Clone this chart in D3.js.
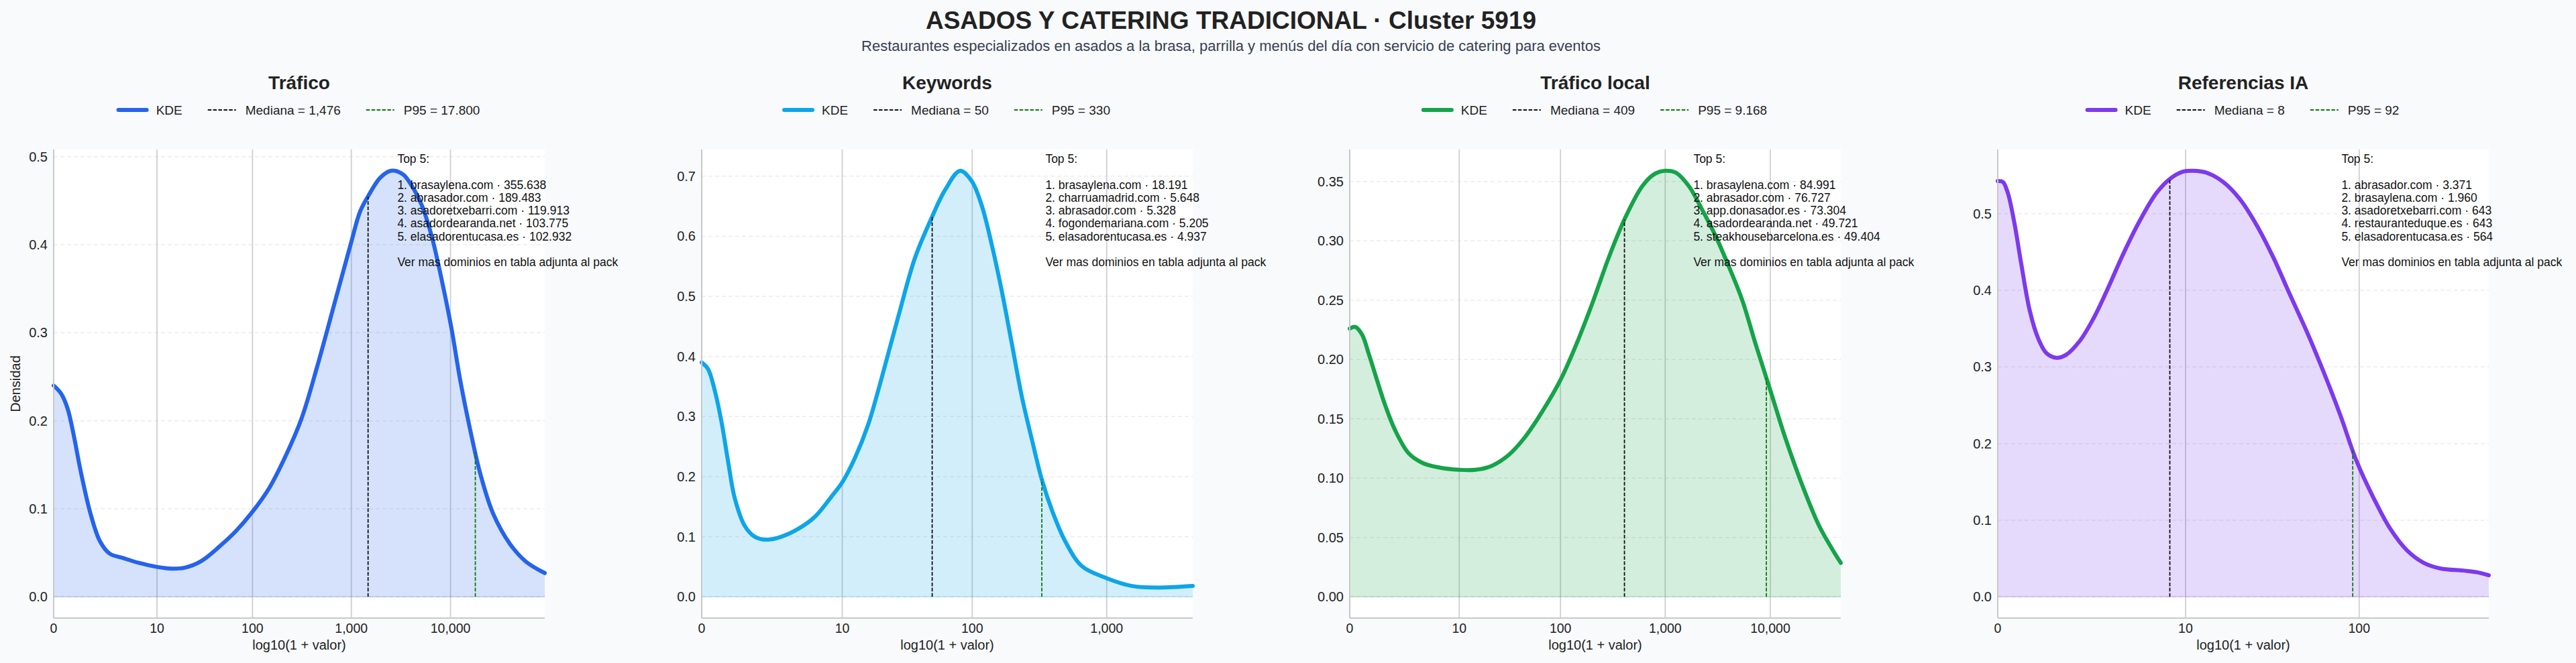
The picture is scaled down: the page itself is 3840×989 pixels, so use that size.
<!DOCTYPE html>
<html>
<head>
<meta charset="utf-8">
<script src="https://cdn.jsdelivr.net/npm/d3@7"></script>
<style>
  html, body { margin: 0; padding: 0; background: #f8fafc; }
  svg { display: block; font-family: "Liberation Sans", Arial, sans-serif; }
</style>
</head>
<body>
<script>
// panel data (x = log10(1 + valor), y = densidad)
const titles = ["Tráfico", "Keywords", "Tráfico local", "Referencias IA"];
const colors = ["#2563eb", "#0ea5e9", "#16a34a", "#7c3aed"];
const medians = [1476, 50, 409, 8];
const medianLabels = ["1,476", "50", "409", "8"];
const p95s = [17800, 330, 9168, 92];
const p95Labels = ["17.800", "330", "9.168", "92"];
const xMaxes = [4.95, 3.638, 4.67, 2.723];
const yTickSteps = [0.1, 0.1, 0.05, 0.1];
const yTickFormats = [".1f", ".1f", ".2f", ".1f"];
const xTickValues = [0, 10, 100, 1000, 10000];

const traficoKde = [
  [0, 0.240], [0.074, 0.231], [0.14, 0.214], [0.205, 0.182], [0.27, 0.144], [0.37, 0.095],
  [0.467, 0.063], [0.565, 0.049], [0.70, 0.044], [0.86, 0.0385], [1.04, 0.034], [1.19, 0.032],
  [1.32, 0.033], [1.48, 0.040], [1.68, 0.058], [1.84, 0.075], [2.00, 0.096], [2.17, 0.123],
  [2.33, 0.158], [2.50, 0.203], [2.66, 0.263], [2.83, 0.333], [3.0, 0.403], [3.09, 0.438],
  [3.19, 0.459], [3.29, 0.476], [3.40, 0.484], [3.52, 0.480], [3.61, 0.467], [3.71, 0.445],
  [3.81, 0.410], [3.91, 0.361], [4.01, 0.305], [4.10, 0.245], [4.20, 0.189], [4.30, 0.140],
  [4.43, 0.0945], [4.60, 0.060], [4.76, 0.040], [4.95, 0.027]
];
const keywordsKde = [
  [0, 0.390], [0.047, 0.379], [0.096, 0.344], [0.146, 0.292], [0.195, 0.226], [0.245, 0.164],
  [0.319, 0.118], [0.393, 0.100], [0.48, 0.095], [0.59, 0.100], [0.715, 0.113], [0.838, 0.133],
  [0.962, 0.167], [1.04, 0.190], [1.135, 0.231], [1.234, 0.287], [1.333, 0.364], [1.457, 0.467],
  [1.58, 0.564], [1.704, 0.631], [1.803, 0.677], [1.914, 0.709], [2.00, 0.692], [2.075, 0.651],
  [2.15, 0.585], [2.224, 0.508], [2.298, 0.421], [2.372, 0.333], [2.446, 0.262], [2.52, 0.195],
  [2.595, 0.144], [2.694, 0.092], [2.817, 0.051], [3.0, 0.031], [3.188, 0.018], [3.386, 0.0154],
  [3.638, 0.018]
];
const localKde = [
  [0, 0.226], [0.053, 0.2275], [0.117, 0.221], [0.18, 0.205], [0.244, 0.187], [0.339, 0.161],
  [0.434, 0.140], [0.56, 0.121], [0.688, 0.113], [0.847, 0.109], [1.04, 0.107], [1.195, 0.107],
  [1.354, 0.1105], [1.513, 0.1196], [1.671, 0.135], [1.83, 0.156], [2.00, 0.182], [2.147, 0.211],
  [2.306, 0.247], [2.464, 0.286], [2.623, 0.320], [2.782, 0.346], [2.893, 0.356], [2.997, 0.359],
  [3.10, 0.3575], [3.226, 0.346], [3.353, 0.326], [3.48, 0.304], [3.607, 0.278], [3.733, 0.250],
  [3.86, 0.213], [4.0, 0.174], [4.146, 0.133], [4.304, 0.094], [4.463, 0.060], [4.59, 0.040],
  [4.67, 0.0286]
];
const iaKde = [
  [0, 0.5427], [0.0285, 0.5415], [0.056, 0.527], [0.093, 0.487], [0.13, 0.435], [0.177, 0.374],
  [0.223, 0.338], [0.27, 0.318], [0.325, 0.312], [0.38, 0.316], [0.455, 0.334], [0.528, 0.362],
  [0.603, 0.3985], [0.695, 0.447], [0.788, 0.491], [0.88, 0.527], [0.955, 0.5455], [1.029, 0.555],
  [1.084, 0.556], [1.158, 0.5535], [1.25, 0.5415], [1.343, 0.519], [1.436, 0.485], [1.528, 0.443],
  [1.62, 0.3945], [1.714, 0.346], [1.806, 0.294], [1.899, 0.2375], [1.99, 0.177], [2.084, 0.129],
  [2.177, 0.0886], [2.27, 0.0604], [2.362, 0.0443], [2.455, 0.037], [2.584, 0.0342], [2.658, 0.032],
  [2.723, 0.028]
];
const kdes = [traficoKde, keywordsKde, localKde, iaKde];

const top5 = [
  ["brasaylena.com · 355.638", "abrasador.com · 189.483", "asadoretxebarri.com · 119.913",
   "asadordearanda.net · 103.775", "elasadorentucasa.es · 102.932"],
  ["brasaylena.com · 18.191", "charruamadrid.com · 5.648", "abrasador.com · 5.328",
   "fogondemariana.com · 5.205", "elasadorentucasa.es · 4.937"],
  ["brasaylena.com · 84.991", "abrasador.com · 76.727", "app.donasador.es · 73.304",
   "asadordearanda.net · 49.721", "steakhousebarcelona.es · 49.404"],
  ["abrasador.com · 3.371", "brasaylena.com · 1.960", "asadoretxebarri.com · 643",
   "restauranteduque.es · 643", "elasadorentucasa.es · 564"]
];

const width = 3840, height = 989;
const plotTop = 223, plotBottom = 922, plotW = 732;
const left0 = 80, step = 966;

const svg = d3.select("body").append("svg")
  .attr("width", width).attr("height", height);

svg.append("rect").attr("width", width).attr("height", height).attr("fill", "#f8fafc");

svg.append("text")
  .attr("x", 1835).attr("y", 43)
  .attr("text-anchor", "middle")
  .attr("font-size", 37).attr("font-weight", "bold").attr("fill", "#222")
  .text("ASADOS Y CATERING TRADICIONAL · Cluster 5919");

svg.append("text")
  .attr("x", 1835).attr("y", 76)
  .attr("text-anchor", "middle")
  .attr("font-size", 22).attr("fill", "#374151")
  .text("Restaurantes especializados en asados a la brasa, parrilla y menús del día con servicio de catering para eventos");

function densityAt(kde, x) {
  const i = d3.bisector(d => d[0]).left(kde, x);
  if (i <= 0) return kde[0][1];
  if (i >= kde.length) return kde[kde.length - 1][1];
  const a = kde[i - 1], b = kde[i];
  const t = (x - a[0]) / (b[0] - a[0]);
  return a[1] + t * (b[1] - a[1]);
}

titles.forEach((title, p) => {
  const kde = kdes[p];
  const color = colors[p];
  const left = left0 + p * step;
  const cx = left + plotW / 2;

  const yMax = d3.max(kde, d => d[1]);
  const x = d3.scaleLinear().domain([0, xMaxes[p]]).range([left, left + plotW]);
  const y = d3.scaleLinear().domain([-0.05 * yMax, 1.05 * yMax]).range([plotBottom, plotTop]);

  const g = svg.append("g");

  // plot background
  g.append("rect")
    .attr("x", left).attr("y", plotTop)
    .attr("width", plotW).attr("height", plotBottom - plotTop)
    .attr("fill", "#fff");

  // horizontal grid (dashed, light)
  const yTicks = d3.range(0, yMax * 1.05 + 1e-9, yTickSteps[p]);
  g.selectAll(".hgrid").data(yTicks).join("line")
    .attr("x1", left).attr("x2", left + plotW)
    .attr("y1", d => y(d)).attr("y2", d => y(d))
    .attr("stroke", "#ebebeb").attr("stroke-width", 1.5)
    .attr("stroke-dasharray", "6,4");

  // vertical grid at x ticks
  const xTicks = xTickValues.filter(v => Math.log10(1 + v) <= xMaxes[p]);
  g.selectAll(".vgrid").data(xTicks).join("line")
    .attr("x1", d => x(Math.log10(1 + d))).attr("x2", d => x(Math.log10(1 + d)))
    .attr("y1", plotTop).attr("y2", plotBottom)
    .attr("stroke", "#cfcfcf").attr("stroke-width", 1.8);

  // area + line
  const curve = d3.curveCatmullRom.alpha(0.5);
  const area = d3.area().x(d => x(d[0])).y0(y(0)).y1(d => y(d[1])).curve(curve);
  g.append("path").datum(kde).attr("d", area)
    .attr("fill", color).attr("fill-opacity", 0.19);
  g.append("line")
    .attr("x1", left).attr("x2", left + plotW)
    .attr("y1", y(0)).attr("y2", y(0))
    .attr("stroke", color).attr("stroke-opacity", 0.25).attr("stroke-width", 1.5);

  const line = d3.line().x(d => x(d[0])).y(d => y(d[1])).curve(curve);
  g.append("path").datum(kde).attr("d", line)
    .attr("fill", "none").attr("stroke", color)
    .attr("stroke-width", 6).attr("stroke-linecap", "round").attr("stroke-linejoin", "round");

  // median and p95 markers
  const mx = Math.log10(1 + medians[p]);
  g.append("line")
    .attr("x1", x(mx)).attr("x2", x(mx))
    .attr("y1", y(0)).attr("y2", y(densityAt(kde, mx)))
    .attr("stroke", "#111").attr("stroke-width", 1.8).attr("stroke-dasharray", "5.5,2.4");
  const px = Math.log10(1 + p95s[p]);
  g.append("line")
    .attr("x1", x(px)).attr("x2", x(px))
    .attr("y1", y(0)).attr("y2", y(densityAt(kde, px)))
    .attr("stroke", "#0b7a0b").attr("stroke-width", 1.8).attr("stroke-dasharray", "5.5,2.4");

  // spines
  g.append("line").attr("x1", left).attr("x2", left).attr("y1", plotTop).attr("y2", plotBottom)
    .attr("stroke", "#c8c8c8").attr("stroke-width", 2);
  g.append("line").attr("x1", left).attr("x2", left + plotW).attr("y1", plotBottom).attr("y2", plotBottom)
    .attr("stroke", "#c8c8c8").attr("stroke-width", 2);

  // tick labels
  const fmtY = d3.format(yTickFormats[p]);
  g.selectAll(".ytl").data(yTicks).join("text")
    .attr("x", left - 9).attr("y", d => y(d))
    .attr("text-anchor", "end").attr("dominant-baseline", "central")
    .attr("font-size", 20).attr("fill", "#222")
    .text(d => fmtY(d));
  const fmtX = d3.format(",");
  g.selectAll(".xtl").data(xTicks).join("text")
    .attr("x", d => x(Math.log10(1 + d))).attr("y", 944)
    .attr("text-anchor", "middle")
    .attr("font-size", 19.5).attr("fill", "#222")
    .text(d => fmtX(d));

  g.append("text")
    .attr("x", cx).attr("y", 969)
    .attr("text-anchor", "middle").attr("font-size", 20).attr("fill", "#222")
    .text("log10(1 + valor)");

  if (p === 0) {
    g.append("text")
      .attr("transform", `translate(30, ${(plotTop + plotBottom) / 2}) rotate(-90)`)
      .attr("text-anchor", "middle").attr("font-size", 20).attr("fill", "#222")
      .text("Densidad");
  }

  // panel title
  g.append("text")
    .attr("x", cx).attr("y", 133)
    .attr("text-anchor", "middle").attr("font-size", 28).attr("font-weight", "bold").attr("fill", "#222")
    .text(title);

  // legend
  const items = [
    { label: "KDE", stroke: color, w: 6, dash: null },
    { label: "Mediana = " + medianLabels[p], stroke: "#111", w: 1.8, dash: "5.5,2.4" },
    { label: "P95 = " + p95Labels[p], stroke: "#0b7a0b", w: 1.8, dash: "5.5,2.4" }
  ];
  const leg = g.append("g");
  let cursor = 0;
  items.forEach(it => {
    const ig = leg.append("g").attr("transform", `translate(${cursor},0)`);
    ig.append("line").attr("x1", 0).attr("x2", 42).attr("y1", 164).attr("y2", 164)
      .attr("stroke", it.stroke).attr("stroke-width", it.w)
      .attr("stroke-linecap", it.dash ? "butt" : "round")
      .attr("stroke-dasharray", it.dash);
    const t = ig.append("text").attr("x", 56).attr("y", 171)
      .attr("font-size", 19).attr("fill", "#222").text(it.label);
    cursor += 56 + t.node().getComputedTextLength() + 38;
  });
  const legW = cursor - 38;
  leg.attr("transform", `translate(${cx - legW / 2},0)`);

  // top 5 annotation
  const lines = ["Top 5:", ""].concat(top5[p].map((s, i) => `${i + 1}. ${s}`))
    .concat(["", "Ver mas dominios en tabla adjunta al pack"]);
  const ax = left + 0.70 * plotW;
  g.selectAll(".top").data(lines).join("text")
    .attr("x", ax).attr("y", (d, i) => 243 + i * 19.25)
    .attr("font-size", 17.5).attr("fill", "#111")
    .text(d => d);
});
</script>
</body>
</html>
